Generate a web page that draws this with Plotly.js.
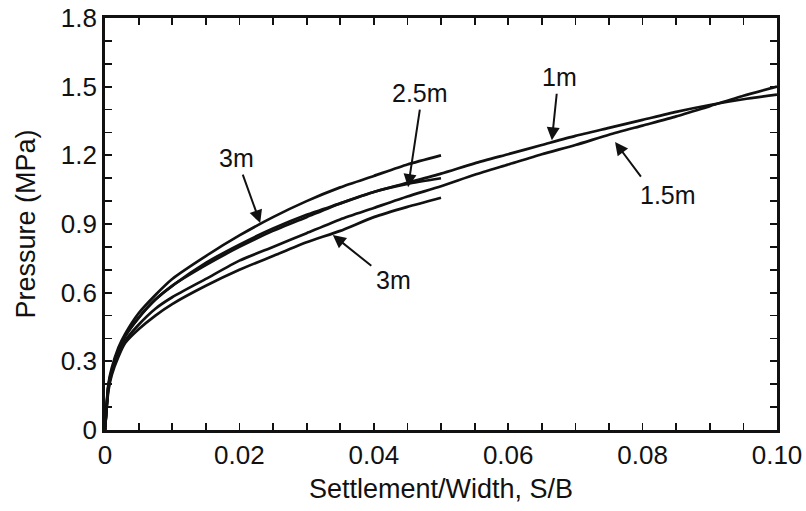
<!DOCTYPE html>
<html>
<head>
<meta charset="utf-8">
<script src="https://cdn.plot.ly/plotly-3.0.1.min.js"></script>
<style>html,body{margin:0;padding:0;background:#fff;}#chart{width:806px;height:511px;}</style>
</head>
<body>
<div id="chart"></div>
<script>
// Settlement/Width values
const xShort = [0,0.0005,0.001,0.002,0.003,0.005,0.0075,0.01,0.015,0.02,0.025,0.03,0.035,0.04,0.045,0.05];
const xLong = [0,0.0005,0.001,0.002,0.003,0.005,0.0075,0.01,0.015,0.02,0.025,0.03,0.035,0.04,0.045,0.05,0.055,0.06,0.065,0.07,0.075,0.08,0.085,0.09,0.095,0.1];
// Pressure (MPa) series
const p3mUpper = [0,0.2,0.27,0.36,0.42,0.51,0.59,0.66,0.76,0.85,0.93,1.00,1.06,1.11,1.16,1.20];
const p25m = [0,0.19,0.26,0.35,0.41,0.49,0.57,0.63,0.72,0.80,0.87,0.93,0.99,1.04,1.075,1.10];
const p1m = [0,0.19,0.26,0.35,0.41,0.49,0.57,0.63,0.73,0.81,0.88,0.94,0.99,1.04,1.08,1.12,1.165,1.205,1.245,1.285,1.32,1.355,1.39,1.42,1.445,1.465];
const p15m = [0,0.18,0.25,0.33,0.39,0.46,0.53,0.58,0.66,0.74,0.80,0.86,0.92,0.97,1.02,1.065,1.115,1.16,1.205,1.245,1.29,1.33,1.37,1.415,1.46,1.50];
const p3mLower = [0,0.17,0.24,0.32,0.38,0.44,0.50,0.55,0.63,0.70,0.76,0.82,0.87,0.93,0.975,1.015];

// Tick labels
const xTickVals = [0,0.02,0.04,0.06,0.08,0.10];
const xTickText = ["0","0.02","0.04","0.06","0.08","0.10"];
const yTickVals = [0,0.3,0.6,0.9,1.2,1.5,1.8];
const yTickText = ["0","0.3","0.6","0.9","1.2","1.5","1.8"];

// Curve labels: text, label position, arrow tip
const labelText = ["3m","2.5m","1m","1.5m","3m"];
const labelX = [0.0196,0.0469,0.0677,0.0838,0.0429];
const labelY = [1.188,1.472,1.541,1.026,0.655];
const tipX = [0.0231,0.0451,0.0665,0.0759,0.0339];
const tipY = [0.904,1.061,1.266,1.258,0.852];
const tailDX = [-18,12,5,27,40];
const tailDY = [-50,-79,-48,36,32];

const lineStyle = {color:'#111', width:2.7, shape:'spline', smoothing:0.6};
const traces = [
  {x:xShort, y:p3mUpper, name:'3m upper'},
  {x:xShort, y:p25m, name:'2.5m'},
  {x:xLong, y:p1m, name:'1m'},
  {x:xLong, y:p15m, name:'1.5m'},
  {x:xShort, y:p3mLower, name:'3m lower'}
].map(t => Object.assign(t, {type:'scatter', mode:'lines', line:lineStyle, showlegend:false, hoverinfo:'skip'}));

const fam = '"Liberation Sans", Arial, Helvetica, sans-serif';
const tickFont = {family:fam, size:26, color:'#111'};
const titleFont = {family:fam, size:27, color:'#111'};
const annFont = {family:fam, size:25, color:'#111'};
const annotations = [];
for (let i = 0; i < labelText.length; i++) {
  annotations.push({x:labelX[i], y:labelY[i], xref:'x', yref:'y', text:labelText[i], showarrow:false, font:annFont});
  annotations.push({x:tipX[i], y:tipY[i], xref:'x', yref:'y', text:'', showarrow:true,
    ax:tailDX[i], ay:tailDY[i], arrowhead:2, arrowsize:1.3, arrowwidth:2, arrowcolor:'#111'});
}

const layout = {
  width:806, height:511,
  margin:{l:105, r:29, t:18, b:81},
  paper_bgcolor:'#fff', plot_bgcolor:'#fff',
  font:tickFont,
  showlegend:false,
  xaxis:{
    range:[0,0.1], tickvals:xTickVals, ticktext:xTickText,
    ticks:'inside', ticklen:7, tickwidth:1.8, tickcolor:'#111',
    minor:{dtick:0.005, ticks:'inside', ticklen:7, tickwidth:1.8, tickcolor:'#111', showgrid:false},
    showline:true, linecolor:'#111', linewidth:2.8, mirror:'ticks',
    showgrid:false, zeroline:false, tickfont:tickFont,
    title:{text:'Settlement/Width, S/B', font:titleFont, standoff:10}
  },
  yaxis:{
    range:[0,1.8], tickvals:yTickVals, ticktext:yTickText,
    ticks:'inside', ticklen:7, tickwidth:1.8, tickcolor:'#111',
    minor:{dtick:0.1, ticks:'inside', ticklen:7, tickwidth:1.8, tickcolor:'#111', showgrid:false},
    showline:true, linecolor:'#111', linewidth:2.8, mirror:'ticks',
    showgrid:false, zeroline:false, tickfont:tickFont,
    title:{text:'Pressure (MPa)', font:titleFont, standoff:18}
  },
  annotations:annotations
};

Plotly.newPlot('chart', traces, layout, {displayModeBar:false, staticPlot:true});
</script>
</body>
</html>
